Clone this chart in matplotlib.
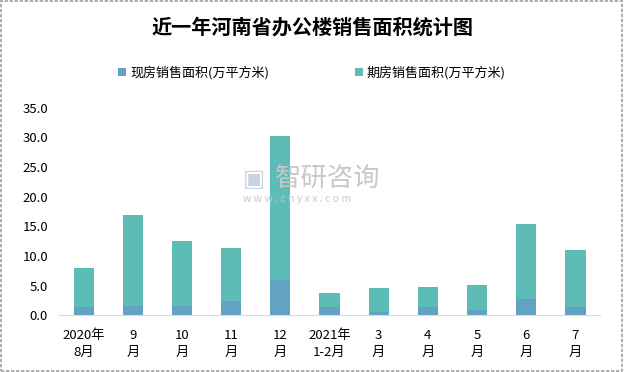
import matplotlib.pyplot as plt
import numpy as np
from matplotlib.patches import Rectangle

plt.rcParams['font.family'] = ['Noto Sans CJK SC', 'DejaVu Sans']

# data
months = ['2020年\n8月', '9\n月', '10\n月', '11\n月', '12\n月', '2021年\n1-2月',
          '3\n月', '4\n月', '5\n月', '6\n月', '7\n月']
spot_area = [1.4, 1.6, 1.6, 2.4, 6.0, 1.4, 0.6, 1.4, 0.9, 2.8, 1.4]
total_area = [8.0, 16.9, 12.5, 11.4, 30.2, 3.8, 4.6, 4.8, 5.1, 15.4, 11.0]
forward_area = [t - s for t, s in zip(total_area, spot_area)]

spot_color = '#62A3C3'
forward_color = '#5DBCB5'

fig = plt.figure(figsize=(6.24, 3.72), dpi=100)
ax = fig.add_axes([0.0946, 0.1524, 0.867, 0.558])

x = np.arange(len(months))
ax.bar(x, spot_area, width=0.41, color=spot_color, label='现房销售面积(万平方米)')
ax.bar(x, forward_area, width=0.41, bottom=spot_area, color=forward_color,
       label='期房销售面积(万平方米)')

ax.set_xlim(-0.5, len(months) - 0.5)
ax.set_ylim(0, 35)
ax.set_yticks(np.arange(0, 36, 5))
ax.set_yticklabels([f'{v:.1f}' for v in np.arange(0, 36, 5)], fontsize=9.5)
ax.set_xticks(x)
ax.set_xticklabels(months, fontsize=9.5, linespacing=1.35)
ax.tick_params(length=0, pad=8)
ax.tick_params(axis='x', pad=10)
for s in ['top', 'right', 'left']:
    ax.spines[s].set_visible(False)
ax.spines['bottom'].set_color('#D9D9D9')

fig.text(0.5, 0.927, '近一年河南省办公楼销售面积统计图', ha='center', va='center',
         fontsize=14.5, fontweight='bold')

fig.legend(loc='center', bbox_to_anchor=(0.5, 0.805), ncol=2, frameon=False,
           fontsize=9.4, handlelength=0.6, handleheight=0.6, handletextpad=0.3,
           columnspacing=6.6)

# watermark
fig.text(0.44, 0.52, '智研咨询', fontsize=19, color='#C8C8C8', ha='left', va='center')
fig.text(0.39, 0.466, 'w w w . c h y x x . c o m', fontsize=7.5, color='#C8C8C8',
         ha='left', va='center')
fig.text(0.39, 0.52, '▣', fontsize=17, color='#C5D3E3', ha='left', va='center',
         family=['DejaVu Sans'])

fig.patches.append(Rectangle((0.002, 0.003), 0.995, 0.993, transform=fig.transFigure,
                             fill=False, edgecolor='#A0A0A0', linewidth=1.2,
                             linestyle=(0, (2, 1))))

fig.savefig('out.png', dpi=100)
